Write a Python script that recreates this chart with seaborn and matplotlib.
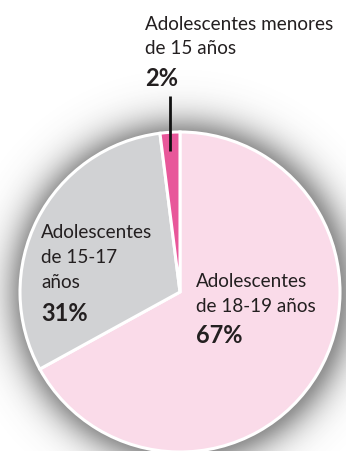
import numpy as np
import seaborn as sns
import matplotlib.pyplot as plt

sns.set_theme(style="white")
plt.rcParams['font.family'] = ['Lato', 'DejaVu Sans']

# data
groups = ["Adolescentes de 18-19 años", "Adolescentes de 15-17 años", "Adolescentes menores de 15 años"]
shares = [67, 31, 2]
colors = ["#fadbe9", "#d1d2d4", "#e8579a"]
txt_col = "#231f20"

W, H = 346, 452
fig = plt.figure(figsize=(W / 100, H / 100), dpi=100)
ax = fig.add_axes([0, 0, 1, 1])

cx, cy, r = 180, H - 293, 160

# soft drop shadow behind the pie (radial fade)
xx, yy = np.meshgrid(np.arange(W) + 0.5, H - np.arange(H) - 0.5)
d = np.hypot(xx - (cx + 2), yy - (cy - 1)) - r
alpha = 0.6 * np.exp(-(np.clip(d, 0, None) / 20.0) ** 1.4)
shade = np.zeros((H, W, 4))
shade[..., :3] = 0.3
shade[..., 3] = alpha
ax.imshow(shade, extent=(0, W, 0, H), zorder=0, interpolation='bilinear')

ax.pie(shares, colors=colors, startangle=90, counterclock=False,
       center=(cx, cy), radius=r, frame=True,
       wedgeprops=dict(edgecolor="white", linewidth=2.2))
ax.set_xlim(0, W)
ax.set_ylim(0, H)
ax.set_aspect('equal')
ax.axis('off')

def py(y):
    return H - y

fs, fb = 13.6, 17

# top label (2%)
ax.text(145, py(30), "Adolescentes menores", fontsize=fs, color=txt_col, va='baseline')
ax.text(145, py(54), "de 15 años", fontsize=fs, color=txt_col, va='baseline')
ax.text(145, py(86), f"{shares[2]}%", fontsize=fb, fontweight='bold', color=txt_col, va='baseline')
ax.plot([170, 170], [py(97), py(152)], color="#111111", lw=2, solid_capstyle='butt', zorder=5)

# gray slice label
ax.text(41, py(238), "Adolescentes", fontsize=fs, color=txt_col, va='baseline')
ax.text(41, py(263), "de 15-17", fontsize=fs, color=txt_col, va='baseline')
ax.text(41, py(288), "años", fontsize=fs, color=txt_col, va='baseline')
ax.text(41, py(321), f"{shares[1]}%", fontsize=fb, fontweight='bold', color=txt_col, va='baseline')

# light pink slice label
ax.text(196, py(287), "Adolescentes", fontsize=fs, color=txt_col, va='baseline')
ax.text(196, py(312), "de 18-19 años", fontsize=fs, color=txt_col, va='baseline')
ax.text(196, py(343), f"{shares[0]}%", fontsize=fb, fontweight='bold', color=txt_col, va='baseline')

fig.savefig("out.png", dpi=100, facecolor="white")
